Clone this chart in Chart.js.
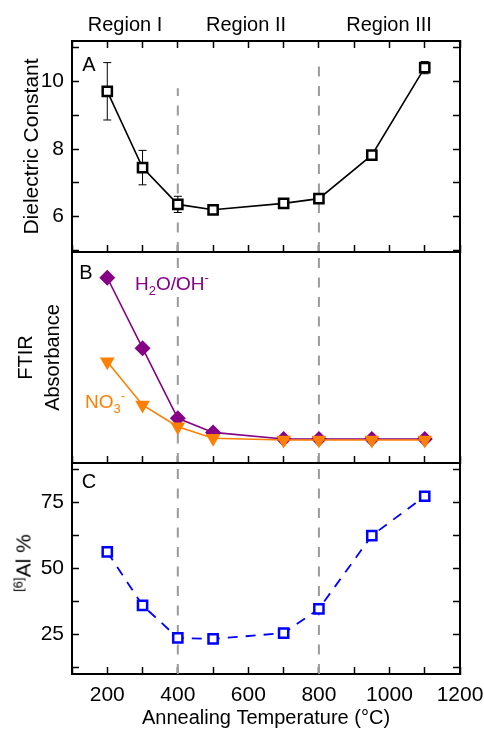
<!DOCTYPE html>
<html>
<head>
<meta charset="utf-8">
<script src="https://cdn.jsdelivr.net/npm/chart.js@4.4.1/dist/chart.umd.min.js"></script>
<style>
  body { margin: 0; background: #fff; }
  #wrap { position: relative; width: 484px; height: 730px; font-family: 'Liberation Sans', Arial, sans-serif; }
  #wrap canvas { position: absolute; left: 0; top: 0; }
  .lbl { position: absolute; font-size: 20px; line-height: 1; color: #000; white-space: nowrap; }
  .c { transform: translate(-50%, -50%); }
  .sub, .sup { font-size: 13px; position: relative; }
</style>
</head>
<body>
<div id="wrap">
  <canvas id="chartA" width="484" height="730"></canvas>
  <canvas id="chartB" width="484" height="730"></canvas>
  <canvas id="chartC" width="484" height="730"></canvas>

  <div class="lbl c" style="left:125px;top:24px">Region I</div>
  <div class="lbl c" style="left:246px;top:24px">Region II</div>
  <div class="lbl c" style="left:389px;top:24px">Region III</div>

  <div class="lbl c" style="left:89px;top:64px">A</div>
  <div class="lbl c" style="left:86px;top:272px">B</div>
  <div class="lbl c" style="left:89px;top:481px">C</div>

  <div class="lbl" style="left:135px;top:274px;font-size:19px;color:#850085">H<span class="sub" style="top:5px">2</span>O/OH<span class="sup" style="top:-8px">-</span></div>
  <div class="lbl" style="left:85px;top:392px;font-size:19px;color:#ff8000">NO<span class="sub" style="top:5px">3</span><span class="sup" style="top:-8px">-</span></div>

  <div class="lbl" style="left:23px;top:563px;font-size:21px;transform:translate(-50%,-50%) rotate(-90deg)"><span class="sup" style="top:-8px">[6]</span>Al %</div>
</div>

<script>
// annealing temperatures (°C)
const temps = [200, 300, 400, 500, 700, 800, 950, 1100];

// panel A: dielectric constant with error bars
const dielectric = [9.71, 7.45, 6.36, 6.20, 6.39, 6.53, 7.82, 10.41];
const dielectricErr = [0.85, 0.51, 0.24, 0.05, 0.05, 0.05, 0.10, 0.18];

// panel B: FTIR absorbance (arbitrary units)
const h2oAbs = [87.8, 54.4, 21.2, 14.5, 11.4, 11.4, 11.4, 11.4];
const no3Abs = [48.0, 27.5, 17.2, 11.7, 10.9, 10.9, 10.9, 10.9];

// panel C: six-coordinate Al fraction (%)
const al6 = [56.3, 36.0, 23.7, 23.3, 25.5, 34.7, 62.5, 77.4];

// region boundaries and where their dashed lines start in panel A
const regionBounds = [400, 800];
const regionTopA = [9.8, 10.6];

Chart.defaults.font.family = "'Liberation Sans', Arial, sans-serif";
Chart.defaults.font.size = 20;
Chart.defaults.color = '#000';

const pts = ys => temps.map((t, i) => ({ x: t, y: ys[i] }));

const BORDER = { display: true, color: '#000', width: 2 };
const TICKS_IN = { drawOnChartArea: false, drawTicks: true, tickLength: -7, tickWidth: 1.5, tickColor: '#000' };
const NO_TICKS = { drawOnChartArea: false, drawTicks: false };

function regionLines(lo, hi) {
  return regionBounds.map((b, k) => ({
    data: [{ x: b, y: lo }, { x: b, y: hi[k] }],
    borderColor: '#9a9a9a',
    borderDash: [10, 9.5],
    borderWidth: 2,
    pointRadius: 0,
    order: 9
  }));
}

function makePanel(id, top, bottom, o) {
  return new Chart(document.getElementById(id), {
    type: 'line',
    data: { datasets: o.datasets },
    options: {
      responsive: false,
      animation: false,
      devicePixelRatio: 1,
      layout: { padding: 0 },
      plugins: { legend: { display: false }, tooltip: { enabled: false } },
      scales: {
        x: {
          type: 'linear', position: 'bottom', min: 100, max: 1200,
          border: BORDER, grid: TICKS_IN,
          ticks: {
            stepSize: 100, autoSkip: false, maxRotation: 0, minRotation: 0,
            display: !!o.xLabels, padding: 16, font: { size: 21 },
            callback: v => (v % 200 === 0 ? v : '')
          },
          title: o.xTitle ? { display: true, text: o.xTitle, padding: { top: 0, bottom: 0 } } : { display: false },
          afterFit: s => { s.height = 730 - bottom; s.paddingLeft = 0; s.paddingRight = 0; }
        },
        x2: {
          type: 'linear', position: 'top', min: 100, max: 1200,
          border: BORDER, grid: o.topTicks ? TICKS_IN : NO_TICKS,
          ticks: { stepSize: 100, autoSkip: false, display: false },
          afterFit: s => { s.height = top; s.paddingLeft = 0; s.paddingRight = 0; }
        },
        y: {
          type: 'linear', position: 'left', min: o.yMin, max: o.yMax,
          border: BORDER, grid: o.yStep ? TICKS_IN : NO_TICKS,
          ticks: {
            display: !!o.yStep, stepSize: o.yStep, includeBounds: false, autoSkip: false,
            padding: 15, font: { size: 21 }, callback: o.yLabel
          },
          title: o.yTitle ? Object.assign({ display: true, padding: { top: o.yTitlePad, bottom: 0 } }, o.yTitle) : { display: false },
          afterFit: s => { s.width = 72; s.paddingTop = 0; s.paddingBottom = 0; }
        },
        y2: {
          type: 'linear', position: 'right', min: o.yMin, max: o.yMax,
          border: BORDER, grid: o.yStep ? TICKS_IN : NO_TICKS,
          ticks: { display: false, stepSize: o.yStep, includeBounds: false, autoSkip: false },
          afterFit: s => { s.width = 24; s.paddingTop = 0; s.paddingBottom = 0; }
        }
      }
    }
  });
}

// ---- panel A ----
const errBars = temps.map((t, i) => ({
  data: [{ x: t, y: dielectric[i] - dielectricErr[i] }, { x: t, y: dielectric[i] + dielectricErr[i] }],
  borderColor: '#000',
  borderWidth: 1,
  pointStyle: 'line',
  pointRadius: 4,
  pointBorderWidth: 1,
  pointBorderColor: '#000',
  order: 2
}));

makePanel('chartA', 41, 252, {
  yMin: 4.95, yMax: 11.2, yStep: 1,
  yLabel: v => (v % 2 === 0 ? v : ''),
  topTicks: true,
  yTitle: { text: 'Dielectric Constant', font: { size: 21 } }, yTitlePad: 20,
  datasets: [
    {
      data: pts(dielectric),
      borderColor: '#000', borderWidth: 1.6,
      pointStyle: 'rect', pointRadius: 6.5, pointBorderWidth: 2.5,
      pointBorderColor: '#000', pointBackgroundColor: '#fff',
      order: 1
    },
    ...errBars,
    ...regionLines(4.95, regionTopA)
  ]
});

// ---- panel B ----
makePanel('chartB', 252, 463, {
  yMin: 0, yMax: 100, yStep: 0,
  topTicks: false,
  yTitle: { text: ['FTIR', 'Absorbance'], font: { size: 20, lineHeight: 1.35 } }, yTitlePad: 12.5,
  datasets: [
    {
      data: pts(no3Abs),
      borderColor: '#ff8000', borderWidth: 1.6,
      pointStyle: 'triangle', rotation: 180, pointRadius: 8.5, pointBorderWidth: 0,
      pointBackgroundColor: '#ff8000',
      order: 0
    },
    {
      data: pts(h2oAbs),
      borderColor: '#850085', borderWidth: 1.6,
      pointStyle: 'rectRot', pointRadius: 8, pointBorderWidth: 0,
      pointBackgroundColor: '#850085',
      order: 1
    },
    ...regionLines(0, [100, 100])
  ]
});

// ---- panel C ----
makePanel('chartC', 463, 674, {
  yMin: 10, yMax: 90, yStep: 12.5,
  yLabel: v => (v % 25 === 0 ? v : ''),
  topTicks: false,
  xLabels: true,
  xTitle: 'Annealing Temperature (\u00B0C)',
  datasets: [
    {
      data: pts(al6),
      borderColor: '#0000ff', borderWidth: 1.8, borderDash: [10, 8],
      pointStyle: 'rect', pointRadius: 6.5, pointBorderWidth: 2.5,
      pointBorderColor: '#0000ff', pointBackgroundColor: '#fff',
      order: 1
    },
    ...regionLines(10, [90, 90])
  ]
});
</script>
</body>
</html>
